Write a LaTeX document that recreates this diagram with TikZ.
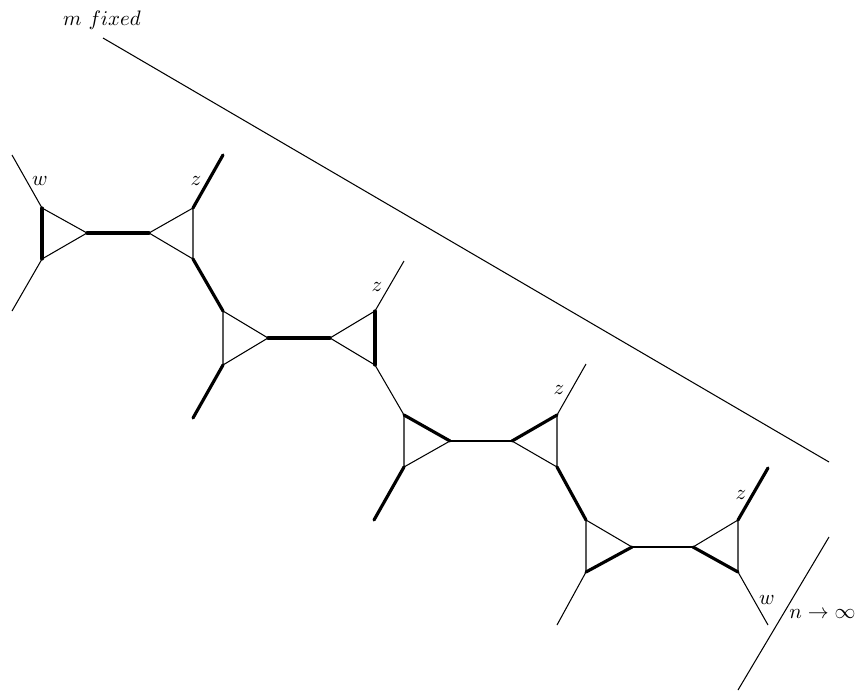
\documentclass[tikz,border=0pt]{standalone}
\begin{document}
\begin{tikzpicture}[x=0.0168cm,y=-0.0168cm,
  thin edge/.style={line width=0.5pt},
  thick edge/.style={line width=1.5pt,line cap=round},
  lbl/.style={inner sep=0pt}]
\useasboundingbox (0,0) rectangle (860,694);
% vertices
\coordinate (a1) at (42,208); \coordinate (b1) at (42,259); \coordinate (c1) at (87,233);
\coordinate (d1) at (149,233); \coordinate (e1) at (193,208); \coordinate (f1) at (193,259);
\coordinate (a2) at (223,311); \coordinate (b2) at (223,365); \coordinate (c2) at (268,338);
\coordinate (d2) at (330,338); \coordinate (e2) at (375,311); \coordinate (f2) at (375,365);
\coordinate (a3) at (404,415); \coordinate (b3) at (404,467); \coordinate (c3) at (450,441);
\coordinate (d3) at (512,441); \coordinate (e3) at (557,415); \coordinate (f3) at (557,467);
\coordinate (a4) at (586,520); \coordinate (b4) at (586,572); \coordinate (c4) at (632,547);
\coordinate (d4) at (693,547); \coordinate (e4) at (738,520); \coordinate (f4) at (738,572);
% free ends
\coordinate (w1) at (12,155); \coordinate (s1) at (12,311); \coordinate (z1) at (223,155);
\coordinate (s2) at (193,418); \coordinate (z2) at (404,261);
\coordinate (s3) at (374,520); \coordinate (z3) at (586,364);
\coordinate (s4) at (557,625); \coordinate (z4) at (768,468); \coordinate (w4) at (768,625);
\coordinate (m1) at (103,38); \coordinate (m2) at (829,462);
\coordinate (n1) at (738,690); \coordinate (n2) at (829,537);
% pair 1
\draw[thin edge] (w1) -- (a1) -- (c1) -- (b1) -- (s1);
\draw[thick edge] (a1) -- (b1);
\draw[thick edge] (c1) -- (d1);
\draw[thin edge] (d1) -- (e1) -- (f1) -- cycle;
\draw[thick edge] (e1) -- (z1);
\draw[thick edge] (f1) -- (a2);
% pair 2
\draw[thin edge] (a2) -- (b2) -- (c2) -- cycle;
\draw[thick edge] (b2) -- (s2);
\draw[thick edge] (c2) -- (d2);
\draw[thin edge] (d2) -- (e2) -- (f2) -- cycle;
\draw[thick edge] (e2) -- (f2);
\draw[thin edge] (e2) -- (z2);
\draw[thin edge] (f2) -- (a3);
% pair 3
\draw[thin edge] (a3) -- (b3) -- (c3) -- cycle;
\draw[thick edge] (a3) -- (c3);
\draw[thick edge] (b3) -- (s3);
\draw[thin edge] (c3) -- (d3);
\draw[thin edge] (d3) -- (e3) -- (f3) -- cycle;
\draw[thick edge] (d3) -- (e3);
\draw[thin edge] (e3) -- (z3);
\draw[thick edge] (f3) -- (a4);
% pair 4
\draw[thin edge] (a4) -- (b4) -- (c4) -- cycle;
\draw[thick edge] (b4) -- (c4);
\draw[thin edge] (b4) -- (s4);
\draw[thin edge] (c4) -- (d4);
\draw[thin edge] (d4) -- (e4) -- (f4) -- cycle;
\draw[thick edge] (d4) -- (f4);
\draw[thick edge] (e4) -- (z4);
\draw[thin edge] (f4) -- (w4);
% bounding lines
\draw[thin edge] (m1) -- (m2);
\draw[thin edge] (n1) -- (n2);
% labels
\node[lbl] (lw1) at (40,181) {$w$};
\node[lbl] (lz1) at (196,181) {$z$};
\node[lbl] (lz2) at (377,287) {$z$};
\node[lbl] (lz3) at (559,390) {$z$};
\node[lbl] (lz4) at (741,495) {$z$};
\node[lbl] (lw4) at (767,600) {$w$};
\node[lbl] (lm) at (102,20) {$m\ fixed$};
\node[lbl,anchor=west] (ln) at (789,614) {$n\to\infty$};
\end{tikzpicture}
\end{document}
